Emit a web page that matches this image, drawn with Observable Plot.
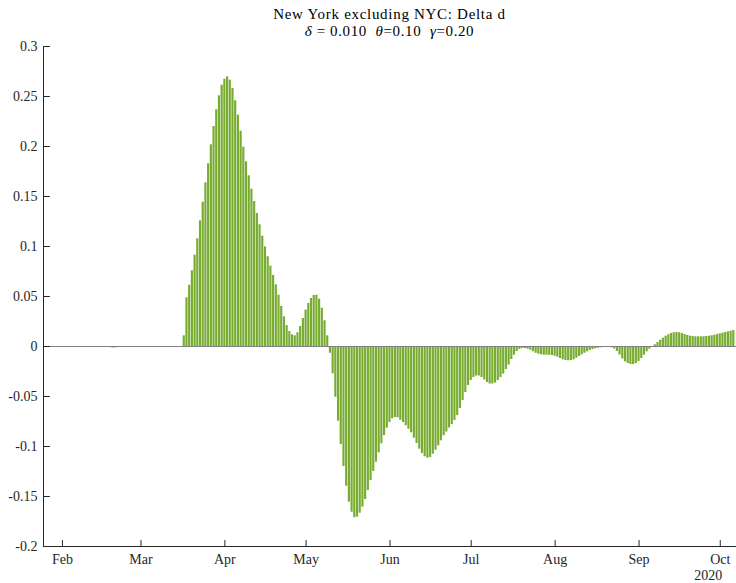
<!DOCTYPE html>
<html>
<head>
<meta charset="utf-8">
<script src="https://cdn.jsdelivr.net/npm/d3@7"></script>
<script src="https://cdn.jsdelivr.net/npm/@observablehq/plot@0.6"></script>
<style>
  body { margin: 0; background: #fff; }
  #wrap { position: relative; width: 736px; height: 583px; font-family: "Liberation Serif", "Times New Roman", serif; }
  .head { position: absolute; left: 43px; width: 693px; text-align: center; font-size: 15px; line-height: 17px; letter-spacing: 0.7px; color: #000; z-index: 2; white-space: pre; }
  #title { top: 5.9px; }
  #subtitle { top: 22.9px; letter-spacing: 0.6px; }
  #chart svg { overflow: visible; }
</style>
</head>
<body>
<div id="wrap">
  <div class="head" id="title">New York excluding NYC: Delta d</div>
  <div class="head" id="subtitle"><i>δ</i> = 0.010  <i>θ</i>=0.10  <i>γ</i>=0.20</div>
  <div id="chart"></div>
</div>
<script>
// Daily values, first entry is 1 Feb 2020
const startDate = "2020-02-01";
const winterValues = [0, 0, 0, 0, 0,
  -0.0003, -0.0003, -0.0003, -0.0003, -0.0003, -0.0003, -0.0003, -0.0003, -0.0003, -0.0003, -0.0003, -0.0003,
  -0.0008, -0.0013, -0.0016, -0.0013, -0.0008,
  0, 0, 0, 0, 0, 0, 0, 0, 0, 0, 0, 0, 0, 0, 0, 0, 0, 0, 0, 0, 0, 0, 0];
const springValues = [0.0107, 0.0487, 0.0613, 0.0757, 0.0913, 0.1077, 0.1257, 0.1443, 0.1637, 0.1827,
  0.2017, 0.22, 0.2367, 0.2507, 0.2613, 0.2673, 0.2697, 0.2663, 0.258, 0.2457,
  0.2313, 0.2153, 0.1993, 0.1847, 0.1707, 0.1573, 0.145, 0.133, 0.1217, 0.1103,
  0.0997, 0.0897, 0.0803, 0.071, 0.0617, 0.0513, 0.04, 0.0297, 0.021, 0.015,
  0.0117, 0.0107, 0.0137, 0.02, 0.028, 0.0363, 0.043, 0.048, 0.051, 0.0513,
  0.0473, 0.0383, 0.0257, 0.0107];
const lateSpringValues = [-0.0067, -0.0273, -0.0507, -0.0747, -0.098, -0.12, -0.1397, -0.1557, -0.1657, -0.1713,
  -0.1707, -0.1667, -0.1607, -0.153, -0.144, -0.134, -0.125, -0.1157, -0.1063, -0.0973,
  -0.089, -0.0817, -0.076, -0.0723, -0.071, -0.0713];
const summerValues = [-0.0737, -0.076, -0.0793, -0.0827, -0.0863, -0.0917, -0.097, -0.1027, -0.107, -0.1103,
  -0.1117, -0.111, -0.1077, -0.1037, -0.0993, -0.0943, -0.0893, -0.0855, -0.0815, -0.078,
  -0.074, -0.069, -0.062, -0.054, -0.046, -0.039, -0.034, -0.031, -0.0295, -0.0295,
  -0.031, -0.0335, -0.036, -0.0375, -0.0375, -0.0365, -0.034, -0.031, -0.0275, -0.023,
  -0.0185];
const lateSummerValues = [-0.013, -0.0087, -0.005, -0.003, -0.002, -0.002, -0.0027, -0.0037, -0.0053, -0.0067,
  -0.0077, -0.0083, -0.0087, -0.0087, -0.0087, -0.009, -0.0097, -0.0107, -0.012, -0.0133,
  -0.014, -0.0143, -0.014, -0.0133, -0.0117, -0.01, -0.0083, -0.0067, -0.0053, -0.004,
  -0.003, -0.0023, -0.0017, -0.0013, -0.001, -0.001, -0.001];
const autumnValues = [-0.0013, -0.0025, -0.005, -0.0085, -0.0125, -0.0153, -0.017, -0.018, -0.018, -0.017,
  -0.015, -0.012, -0.0087, -0.0053, -0.0027, -0.0005, 0.0017, 0.004, 0.0063, 0.0083,
  0.0103, 0.0117, 0.013, 0.0137, 0.014, 0.0137, 0.013, 0.012, 0.011, 0.0103,
  0.01, 0.0097, 0.0097, 0.0097, 0.0097, 0.01, 0.0103, 0.0107, 0.0113, 0.012,
  0.0127, 0.0133, 0.014, 0.0147, 0.0153, 0.016];

const xDomain = ["2020-01-25", "2020-10-07"];
const monthTicks = ["2020-02-01", "2020-03-01", "2020-04-01", "2020-05-01", "2020-06-01",
  "2020-07-01", "2020-08-01", "2020-09-01", "2020-10-01"];
const yearLabel = { date: "2020-10-01", text: "2020" };
const yTicks = [-0.2, -0.15, -0.1, -0.05, 0, 0.05, 0.1, 0.15, 0.2, 0.25, 0.3];

const DAY = 864e5;
const start = new Date(startDate + "T00:00:00Z");
const values = [].concat(winterValues, springValues, lateSpringValues, summerValues, lateSummerValues, autumnValues);
const bars = values.map((v, i) => ({ date: new Date(+start + i * DAY), value: v }));
const xd = xDomain.map(s => new Date(s + "T00:00:00Z"));
const mt = monthTicks.map(s => new Date(s + "T00:00:00Z"));

const tickShape = { draw(context, l) { context.moveTo(0, 0); context.lineTo(0, -l); } };
const axisColor = "#262626";

const chart = Plot.plot({
  width: 736,
  height: 583,
  marginTop: 46,
  marginBottom: 37,
  marginLeft: 43,
  marginRight: 0,
  style: { fontFamily: "Liberation Serif, Times New Roman, serif", fontSize: "14px", color: axisColor, background: "transparent", overflow: "visible" },
  x: { type: "utc", domain: xd },
  y: { domain: [-0.2, 0.3] },
  marks: [
    Plot.rect(bars, {
      x1: d => new Date(+d.date - 0.4 * DAY),
      x2: d => new Date(+d.date + 0.4 * DAY),
      y1: 0,
      y2: "value",
      fill: "#77AC30"
    }),
    Plot.ruleY([0], { stroke: "#808080", strokeWidth: 1 }),
    Plot.ruleX([xd[0]], { stroke: axisColor, strokeWidth: 1 }),
    Plot.ruleY([-0.2], { stroke: axisColor, strokeWidth: 1 }),
    Plot.vector(yTicks, { x: () => xd[0], y: d => d, length: 6, rotate: 90, anchor: "start", shape: tickShape, stroke: axisColor, strokeWidth: 1 }),
    Plot.vector(mt, { x: d => d, y: () => -0.2, length: 6, rotate: 0, anchor: "start", shape: tickShape, stroke: axisColor, strokeWidth: 1 }),
    Plot.axisY({ ticks: yTicks, tickSize: 0, tickPadding: 6, tickFormat: d => String(+d.toFixed(2)), label: null }),
    Plot.axisX({ ticks: mt, tickSize: 0, tickPadding: 8, tickFormat: d3.utcFormat("%b"), label: null }),
    Plot.text([yearLabel], { x: d => new Date(d.date + "T00:00:00Z"), y: () => -0.2, text: "text", lineAnchor: "top", dy: 24, dx: -12, fill: axisColor })
  ]
});
document.getElementById("chart").appendChild(chart);
</script>
</body>
</html>
